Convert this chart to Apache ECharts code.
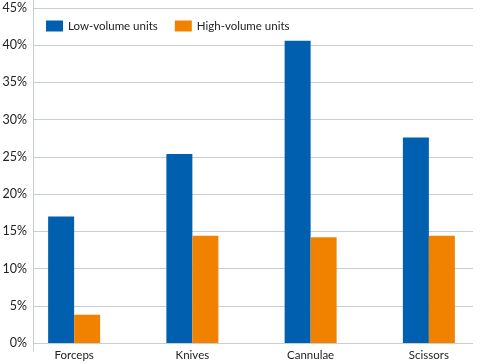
<!DOCTYPE html>
<html><head><meta charset="utf-8">
<script src="https://cdn.jsdelivr.net/npm/echarts@6/dist/echarts.min.js"></script>
<style>html,body{margin:0;padding:0;background:#fff}#c{width:480px;height:363px}</style>
</head><body><div id="c"></div>
<script>
var categories = ['Forceps', 'Knives', 'Cannulae', 'Scissors'];
var lowVolume = [17.0, 25.4, 40.6, 27.6];
var highVolume = [3.8, 14.4, 14.2, 14.4];
var seriesNames = ['Low-volume units', 'High-volume units'];
var yTicks = [0, 5, 10, 15, 20, 25, 30, 35, 40, 45];

var font = 'Lato, Liberation Sans, Arial, sans-serif';
var gridColor = '#c6cdd4';
var chart = echarts.init(document.getElementById('c'), null, {renderer: 'canvas'});
chart.setOption({
  animation: false,
  backgroundColor: '#ffffff',
  textStyle: {fontFamily: font},
  legend: {
    left: 46, top: 20, padding: 0, itemWidth: 17, itemHeight: 11, itemGap: 17,
    icon: 'rect',
    textStyle: {fontSize: 11.5, color: '#222', fontFamily: font},
    data: seriesNames
  },
  grid: [
    {left: 33, right: 7, top: 8, bottom: 20, outerBoundsMode: 'none'},
    {left: 15, width: 473, top: 8, bottom: 20, outerBoundsMode: 'none'},
    {left: 33, right: 7, top: 0, bottom: 12, outerBoundsMode: 'none'}
  ],
  xAxis: [
    {gridIndex: 0, type: 'category', data: categories, show: false},
    {gridIndex: 1, type: 'category', data: categories,
     axisLine: {show: false}, axisTick: {show: false},
     axisLabel: {fontSize: 11.5, color: '#222', margin: 6, fontFamily: font}},
    {gridIndex: 2, type: 'category', data: categories, show: false}
  ],
  yAxis: [
    {gridIndex: 0, type: 'value', min: yTicks[0], max: yTicks[yTicks.length - 1], interval: 5,
     axisLine: {show: false}, axisTick: {show: false},
     splitLine: {lineStyle: {color: gridColor, width: 1}},
     axisLabel: {formatter: '{value}%', fontSize: 12.5, color: '#222', margin: 6, fontFamily: font}},
    {gridIndex: 1, type: 'value', min: yTicks[0], max: yTicks[yTicks.length - 1], show: false},
    {gridIndex: 2, type: 'value', min: 0, max: 1, axisLine: {show: true, lineStyle: {color: gridColor, width: 1}},
     axisTick: {show: false}, axisLabel: {show: false}, splitLine: {show: false}}
  ],
  series: [
    {name: seriesNames[0], type: 'bar', xAxisIndex: 1, yAxisIndex: 1, data: lowVolume,
     barWidth: 26, barGap: '0%', itemStyle: {color: '#005faf'}},
    {name: seriesNames[1], type: 'bar', xAxisIndex: 1, yAxisIndex: 1, data: highVolume,
     barWidth: 26, barGap: '0%', itemStyle: {color: '#f08200'}}
  ]
});
</script></body></html>
